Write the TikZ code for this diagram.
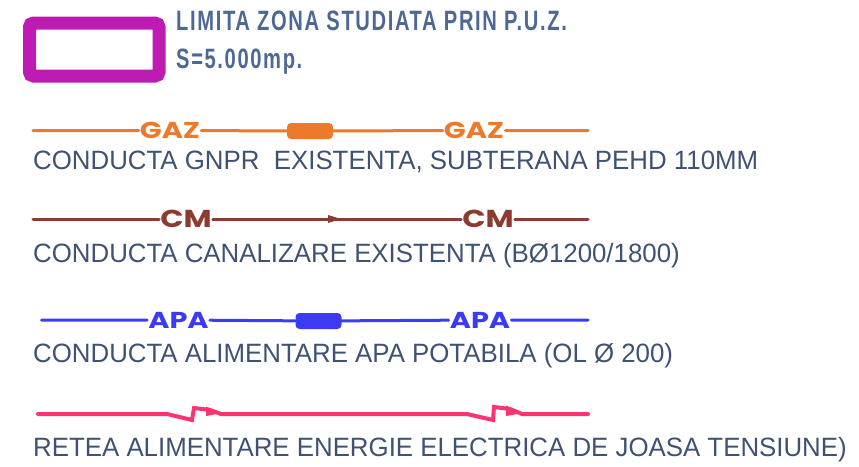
\documentclass[tikz,border=0pt]{standalone}
\usepackage{fontspec}
\setmainfont{Liberation Sans}[FakeStretch=0.975]
\newfontfamily\titlefont{Liberation Sans}[FakeStretch=0.72,LetterSpace=5.8]
\newfontfamily\labfont{Poppins}[FakeStretch=1.25]
\usetikzlibrary{shapes.geometric, arrows}
\definecolor{limcol}{HTML}{BE1AB4}
\definecolor{titlecol}{HTML}{4D6894}
\definecolor{legcol}{HTML}{3E5274}
\definecolor{gazcol}{HTML}{EC7A2A}
\definecolor{cmcol}{HTML}{8B3B30}
\definecolor{apacol}{HTML}{3B3BF5}
\definecolor{elcol}{HTML}{FF3370}
\tikzstyle{legend} = [anchor=base west, inner sep=0, text=legcol, font=\fontsize{26.5}{28}\selectfont]
\tikzstyle{title} = [anchor=base west, inner sep=0, text=titlecol, font=\titlefont\bfseries\fontsize{28}{30}\selectfont]
\tikzstyle{tag} = [inner sep=1pt, font=\labfont\bfseries\fontsize{23}{23}\selectfont]
\tikzstyle{valve} = [rectangle, rounded corners=4pt, minimum width=46pt, minimum height=16pt, inner sep=0]
\tikzstyle{pipe} = [line width=3pt, line cap=round]

\begin{document}
\begin{tikzpicture}[x=1pt, y=-1pt]
		\useasboundingbox (0,0) rectangle (859,466);
		\draw [limcol, line width=13pt, rounded corners=4pt] (29.5,23) rectangle (159,76);
		\node (lim1) [title] at (176,30) {LIMITA ZONA STUDIATA PRIN P.U.Z.};
		\node (lim2) [title] at (176,68) {S=5.000mp.};
		\coordinate (g0) at (33,130.5);
		\coordinate (g1) at (588,130.5);
		\node (gaz1) [tag, text=gazcol] at (170,130.5) {GAZ};
		\node (gv) [valve, fill=gazcol] at (310,131) {};
		\node (gaz2) [tag, text=gazcol] at (474,130.5) {GAZ};
		\draw [pipe, gazcol] (g0) -- (gaz1) -- (gv) -- (gaz2) -- (g1);
		\node (txt1) [legend] at (33,169) {CONDUCTA GNPR\ \ EXISTENTA, SUBTERANA PEHD 110MM};
		\coordinate (c0) at (33,219);
		\coordinate (c1) at (588,219);
		\node (cm1) [tag, text=cmcol, font=\labfont\bfseries\fontsize{24.5}{25}\selectfont] at (186,219) {CM};
		\node (cm2) [tag, text=cmcol, font=\labfont\bfseries\fontsize{24.5}{25}\selectfont] at (488,219) {CM};
		\draw [pipe, cmcol] (c0) -- (cm1) -- (cm2) -- (c1);
		\fill [cmcol] (328,215) -- (341,219) -- (328,223) -- cycle;
		\node (txt2) [legend] at (33,262) {CONDUCTA CANALIZARE EXISTENTA (BØ1200/1800)};
		\coordinate (a0) at (41.5,320);
		\coordinate (a1) at (588,320);
		\node (apa1) [tag, text=apacol] at (178.5,320) {APA};
		\node (av) [valve, fill=apacol] at (318.5,321) {};
		\node (apa2) [tag, text=apacol] at (480,320) {APA};
		\draw [pipe, apacol] (a0) -- (apa1) -- (av) -- (apa2) -- (a1);
		\node (txt3) [legend] at (33,362) {CONDUCTA ALIMENTARE APA POTABILA (OL Ø 200)};
		\coordinate (e0) at (38,414);
		\coordinate (e1) at (588,414);
		\draw [pipe, elcol, line width=4pt, line join=miter] (e0) -- (167,414) -- (192,420) -- (194,408) -- (210,410) -- (221,414) -- (467,414) -- (493,420) -- (494,407) -- (510,409) -- (522,414) -- (e1);
		\fill [elcol] (206,406.5) -- (222,413) -- (206,416) -- cycle;
		\fill [elcol] (506,405.5) -- (523,413) -- (506,416) -- cycle;
		\node (txt4) [legend] at (33,456) {RETEA ALIMENTARE ENERGIE ELECTRICA DE JOASA TENSIUNE)};
\end{tikzpicture}
\end{document}
